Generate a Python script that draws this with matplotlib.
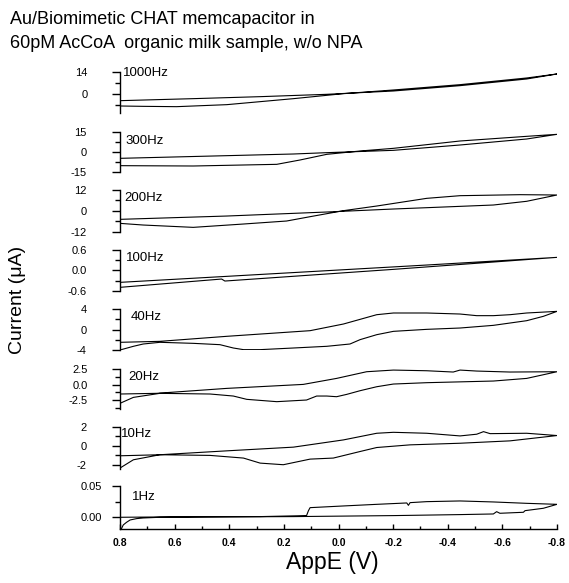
import numpy as np
import matplotlib
matplotlib.use("Agg")
import matplotlib.pyplot as plt
from matplotlib.ticker import FixedLocator, FixedFormatter

plt.rcParams['font.family'] = ['Liberation Sans', 'DejaVu Sans']

# ---------------- data (AppE in V, current in uA) ----------------
labels = ["1000Hz", "300Hz", "200Hz", "100Hz", "40Hz", "20Hz", "10Hz", "1Hz"]

v_1000_f = [0.800, 0.532, 0.287, 0.043, -0.201, -0.445, -0.689, -0.800]
i_1000_f = [-4.25, -2.97, -1.70, -0.21, 1.91, 5.31, 9.55, 12.74]
v_1000_r = [-0.800, -0.689, -0.445, -0.201, -0.018, 0.165, 0.409, 0.593, 0.715, 0.800]
i_1000_r = [12.74, 10.19, 5.94, 2.55, 0.21, -2.97, -6.79, -8.07, -7.86, -7.64]

v_300_f = [0.800, 0.409, 0.165, 0.043, -0.201, -0.445, -0.689, -0.800]
i_300_f = [-4.75, -2.75, -1.5, -0.5, 1.25, 5.25, 9.75, 13.25]
v_300_r = [-0.800, -0.689, -0.445, -0.201, -0.079, 0.043, 0.141, 0.226, 0.532, 0.800]
i_300_r = [13.25, 11.75, 8.25, 2.75, 0.75, -1.75, -6.0, -9.25, -10.5, -10.25]

v_200_f = [0.800, 0.409, 0.043, -0.201, -0.323, -0.445, -0.567, -0.689, -0.800]
i_200_f = [-4.89, -2.98, -0.67, 1.06, 1.82, 2.59, 3.36, 5.5, 9.12]
v_200_r = [-0.800, -0.665, -0.445, -0.323, -0.140, -0.018, 0.104, 0.190, 0.348, 0.532, 0.715, 0.800]
i_200_r = [9.12, 9.31, 8.73, 7.2, 2.78, 0.1, -3.36, -5.85, -7.58, -9.5, -8.16, -7.2]

v_100_f = [0.800, 0.409, 0.043, -0.323, -0.800]
i_100_f = [-0.354, -0.177, -0.01, 0.157, 0.383]
v_100_r = [-0.800, -0.201, 0.416, 0.428, 0.800]
i_100_r = [0.383, 0.029, -0.315, -0.256, -0.501]

v_40_f = [0.800, 0.654, 0.409, 0.104, -0.018, -0.140, -0.201, -0.323, -0.445, -0.506, -0.567, -0.628, -0.689, -0.800]
i_40_f = [-2.5, -2.31, -1.33, -0.23, 1.07, 2.89, 3.22, 3.22, 3.02, 2.7, 2.7, 2.89, 3.22, 3.54]
v_40_r = [-0.800, -0.750, -0.689, -0.567, -0.445, -0.323, -0.201, -0.140, -0.079, -0.042, 0.043, 0.165,
          0.287, 0.348, 0.385, 0.434, 0.532, 0.654, 0.715, 0.751, 0.800]
i_40_r = [3.54, 2.57, 1.72, 0.81, 0.29, 0.03, -0.36, -1.01, -1.98, -2.83, -3.28, -3.61,
          -3.93, -3.93, -3.61, -2.96, -2.7, -2.5, -2.83, -3.28, -4.0]

v_20_f = [0.800, 0.666, 0.409, 0.129, 0.007, -0.103, -0.201, -0.323, -0.420, -0.445, -0.506, -0.628, -0.800]
i_20_f = [-1.52, -1.41, -0.6, 0.05, 1.03, 2.12, 2.39, 2.28, 2.07, 2.39, 2.23, 2.07, 2.12]
v_20_r = [-0.800, -0.689, -0.567, -0.323, -0.201, -0.140, -0.079, -0.030, 0.007, 0.043, 0.080, 0.117,
          0.226, 0.336, 0.385, 0.470, 0.654, 0.751, 0.800]
i_20_r = [2.12, 1.03, 0.6, 0.33, 0.11, -0.33, -0.98, -1.58, -1.96, -1.85, -1.85, -2.5,
          -2.77, -2.39, -1.85, -1.52, -1.41, -2.07, -3.04]

v_10_f = [0.800, 0.654, 0.409, 0.165, -0.018, -0.140, -0.201, -0.323, -0.445, -0.506, -0.531, -0.555, -0.689, -0.800]
i_10_f = [-1.06, -0.95, -0.54, -0.15, 0.61, 1.31, 1.41, 1.31, 1.03, 1.21, 1.48, 1.27, 1.31, 1.07]
v_10_r = [-0.800, -0.628, -0.445, -0.262, -0.140, -0.079, 0.019, 0.104, 0.202, 0.287, 0.348, 0.470, 0.654, 0.751, 0.800]
i_10_r = [1.07, 0.51, 0.26, 0.09, -0.19, -0.61, -1.3, -1.41, -2.0, -1.83, -1.3, -1.02, -0.95, -1.48, -2.35]

v_1_f = [0.800, 0.794, 0.788, 0.776, 0.763, 0.739, 0.715, 0.654, 0.532, 0.165, -0.201, -0.445,
         -0.567, -0.579, -0.591, -0.677, -0.683, -0.750, -0.800]
i_1_f = [-0.0255, -0.0176, -0.0122, -0.0080, -0.0043, -0.0021, -0.0011, 0.0, 0.0005, 0.0011, 0.0027, 0.0043,
         0.0053, 0.0090, 0.0064, 0.0080, 0.0106, 0.0144, 0.0207]
v_1_r = [-0.800, -0.689, -0.567, -0.445, -0.323, -0.262, -0.256, -0.250, -0.140, -0.018, 0.104, 0.110,
         0.117, 0.287, 0.654, 0.800]
i_1_r = [0.0207, 0.0223, 0.0245, 0.0261, 0.0250, 0.0234, 0.0191, 0.0229, 0.0207, 0.0181, 0.0154, 0.0106,
         0.0027, 0.0011, 0.0005, 0.0]

curves = [
    (v_1000_f, i_1000_f, v_1000_r, i_1000_r),
    (v_300_f, i_300_f, v_300_r, i_300_r),
    (v_200_f, i_200_f, v_200_r, i_200_r),
    (v_100_f, i_100_f, v_100_r, i_100_r),
    (v_40_f, i_40_f, v_40_r, i_40_r),
    (v_20_f, i_20_f, v_20_r, i_20_r),
    (v_10_f, i_10_f, v_10_r, i_10_r),
    (v_1_f, i_1_f, v_1_r, i_1_r),
]

ylims = [(-12.1, 14), (-15, 15), (-12, 12), (-0.6, 0.6), (-4, 4), (-4.0, 2.5), (-2.45, 2), (-0.0192, 0.05)]
yticks_major = [[14, 0], [15, 0, -15], [12, 0, -12], [0.6, 0.0, -0.6], [4, 0, -4], [2.5, 0.0, -2.5], [2, 0, -2], [0.05, 0.0]]
ytick_labels = [["14", "0"], ["15", "0", "-15"], ["12", "0", "-12"], ["0.6", "0.0", "-0.6"],
                ["4", "0", "-4"], ["2.5", "0.0", "-2.5"], ["2", "0", "-2"], ["0.05", "0.00"]]
yticks_minor = [[7, -7], [7.5, -7.5], [6, -6], [0.3, -0.3], [2, -2], [1.25, -1.25, -3.75], [1, -1], [0.025]]

xticks_major = [0.8, 0.6, 0.4, 0.2, 0.0, -0.2, -0.4, -0.6, -0.8]
xtick_labels = ["0.8", "0.6", "0.4", "0.2", "0.0", "-0.2", "-0.4", "-0.6", "-0.8"]
xticks_minor = [0.7, 0.5, 0.3, 0.1, -0.1, -0.3, -0.5, -0.7]

# ---------------- layout (pixels) ----------------
W, H = 569, 583
panel_px = [(72, 113), (132, 172), (190, 231.7), (250, 290.7), (309, 350),
            (369.4, 409.2), (426.7, 469), (486, 529.3)]
label_pos = [(123, 73), (125, 141), (124, 198), (126, 258), (131, 317), (128, 377), (121, 434), (132, 497)]
label_right = [88, 87, 87, 87, 87, 88, 87, 102]
x_left, x_right = 120, 557

fig = plt.figure(figsize=(W / 100, H / 100), dpi=100)

for k in range(8):
    top, bot = panel_px[k]
    ax = fig.add_axes([x_left / W, 1 - bot / H, (x_right - x_left) / W, (bot - top) / H])
    vf, i_f, vr, i_r = curves[k]
    v = list(vf) + list(vr)
    c = list(i_f) + list(i_r)
    ax.plot(v, c, color='black', lw=0.8)
    ax.set_xlim(0.8, -0.8)
    ax.set_ylim(*ylims[k])
    ax.patch.set_alpha(0)
    for s in ['top', 'right']:
        ax.spines[s].set_visible(False)
    ax.spines['left'].set_linewidth(1.0)
    ax.yaxis.set_major_locator(FixedLocator(yticks_major[k]))
    ax.yaxis.set_major_formatter(FixedFormatter(ytick_labels[k]))
    ax.yaxis.set_minor_locator(FixedLocator(yticks_minor[k]))
    pad_px = (x_left - 8) - label_right[k]
    ax.tick_params(axis='y', which='major', direction='out', length=6, width=1.0,
                   labelsize=8, pad=pad_px * 72 / 100)
    ax.tick_params(axis='y', which='minor', direction='out', length=3.5, width=1.0)
    if k < 7:
        ax.spines['bottom'].set_visible(False)
        ax.set_xticks([])
    else:
        ax.spines['bottom'].set_linewidth(1.0)
        ax.set_xticks(xticks_major)
        ax.set_xticklabels(xtick_labels, fontweight='bold')
        ax.set_xticks(xticks_minor, minor=True)
        ax.tick_params(axis='x', which='major', direction='in', length=3.5, width=1.0,
                       labelsize=7.5, pad=6)
        ax.tick_params(axis='x', which='minor', direction='in', length=2.5, width=1.0)
    lx, ly = label_pos[k]
    fig.text(lx / W, 1 - ly / H, labels[k], fontsize=9.5, ha='left', va='center')

fig.text(10 / W, 1 - 19 / H, "Au/Biomimetic CHAT memcapacitor in", fontsize=13, ha='left', va='center')
fig.text(10 / W, 1 - 44 / H, "60pM AcCoA  organic milk sample, w/o NPA", fontsize=13, ha='left', va='center')
fig.text(18 / W, 1 - 300 / H, "Current (\u03bcA)", fontsize=14, rotation=90, ha='center', va='center')
fig.text(332 / W, 1 - 562 / H, "AppE (V)", fontsize=16.5, ha='center', va='center')

fig.savefig("out.png", dpi=100)
